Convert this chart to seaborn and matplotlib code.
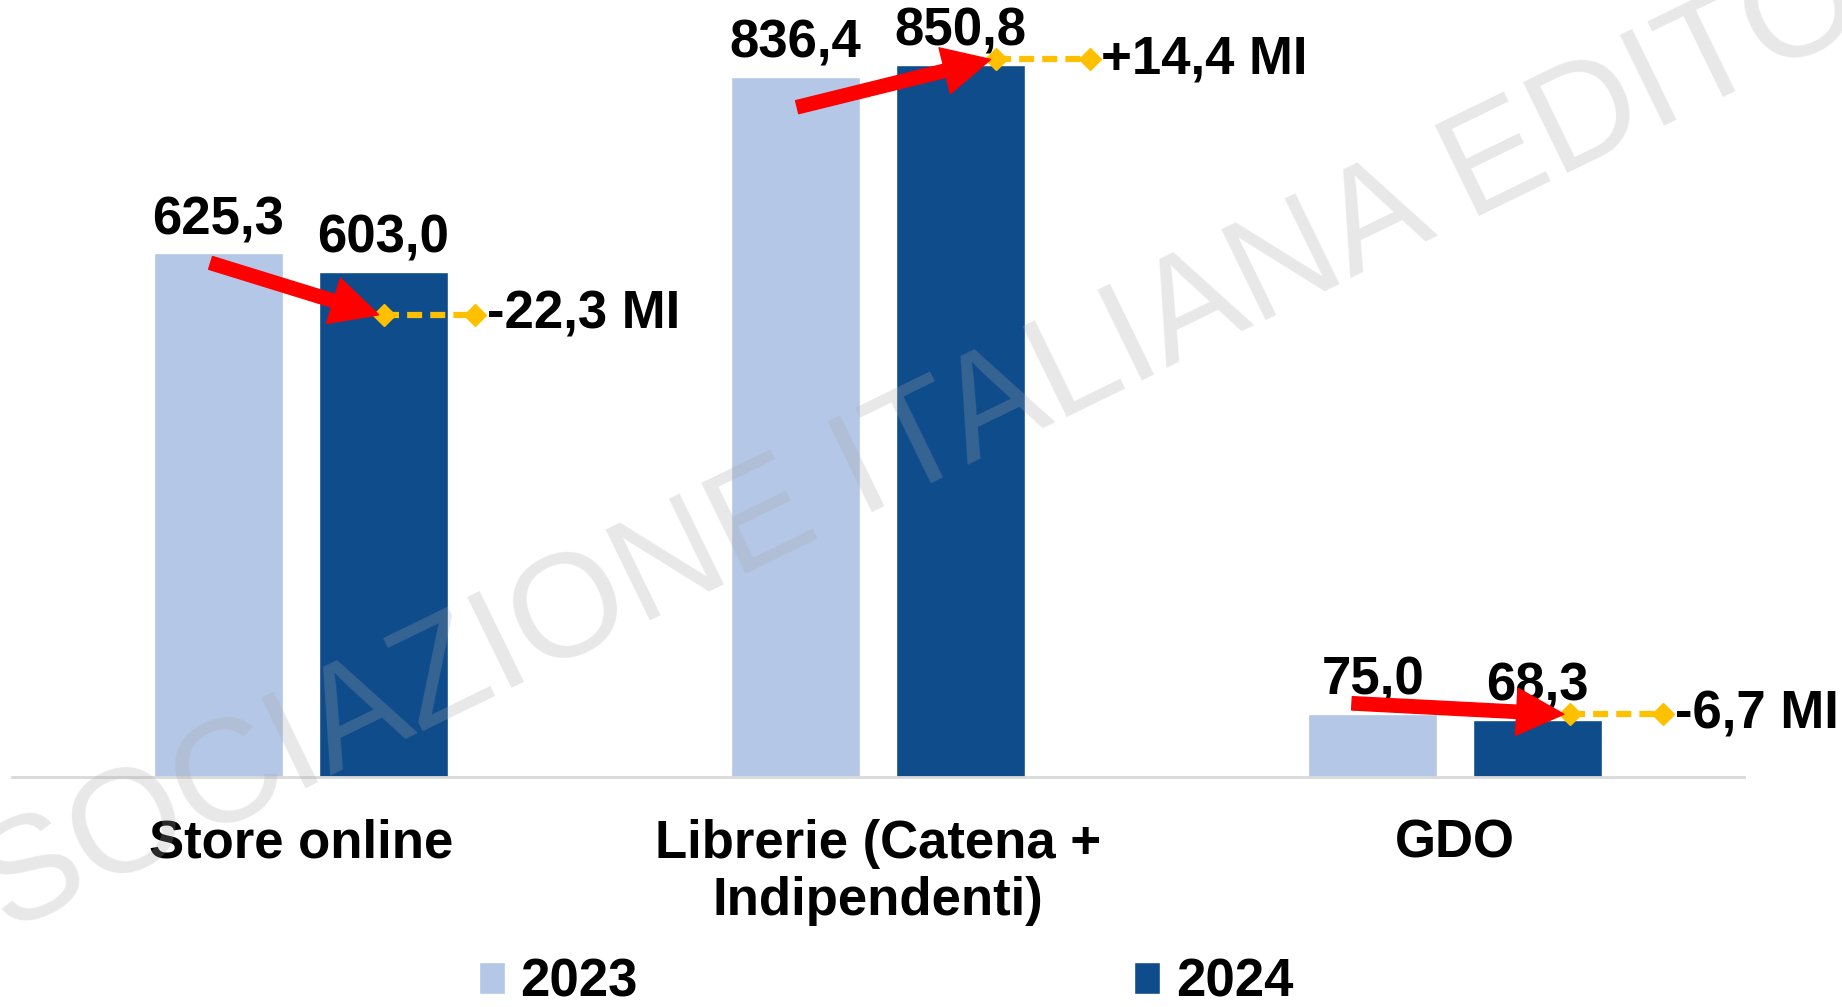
import pandas as pd
import matplotlib.pyplot as plt
import seaborn as sns

categories = ['Store online', 'Librerie (Catena +\nIndipendenti)', 'GDO']
years = ['2023', '2024']
vals_2023 = [625.3, 836.4, 75.0]
vals_2024 = [603.0, 850.8, 68.3]

# arrow layout per category: (tail x offset, tail y, tip x offset, tip y, end x offset)
arrow_layout = [(-0.156, 614, 0.145, 552, 0.302),
                (-0.140, 800, 0.205, 857, 0.367),
                (-0.179, 88, 0.198, 75, 0.360)]

pal = {'2023': '#B4C7E7', '2024': '#0F4C8C'}
fnt = 'Liberation Sans'

df = pd.DataFrame({
    'canale': categories * 2,
    'anno': [years[0]] * 3 + [years[1]] * 3,
    'valore': vals_2023 + vals_2024,
})

sns.set_style('white')
plt.rcParams['font.family'] = [fnt, 'DejaVu Sans']
plt.rcParams['text.color'] = 'black'
plt.rcParams['xtick.color'] = 'black'

fig = plt.figure(figsize=(18.42, 10.07), dpi=100)
ax = fig.add_axes([12 / 1842, 1 - 777 / 1007, 1732 / 1842, 777 / 1007])

sns.barplot(data=df, x='canale', y='valore', hue='anno', hue_order=years,
            palette=pal, width=0.571, gap=0.218, saturation=1, ax=ax)

ax.set_xlim(-0.5, 2.5)
ax.set_ylim(0, 928)
ax.set_xlabel('')
ax.set_ylabel('')
ax.set_yticks([])
for s in ['top', 'left', 'right']:
    ax.spines[s].set_visible(False)
ax.spines['bottom'].set_color('#D9D9D9')
ax.spines['bottom'].set_linewidth(2)
ax.tick_params(axis='x', length=0, pad=30, colors='black')
for lbl in ax.get_xticklabels():
    lbl.set_fontsize(38)
    lbl.set_fontweight('bold')

for cont in ax.containers:
    ax.bar_label(cont, labels=[f'{v:.1f}'.replace('.', ',') for v in cont.datavalues],
                 padding=6, fontsize=38, fontweight='bold', color='black')

# variation arrows
for i, (a, b) in enumerate(zip(vals_2023, vals_2024)):
    tx, ty, hx, hy, ex = arrow_layout[i]
    ax.plot([i + hx, i + ex], [hy, hy], color='#FFC000', lw=4.5, ls=(0, (2.4, 1.3)),
            marker='D', markersize=11, zorder=4, clip_on=False)
    ax.annotate('', xy=(i + hx - 0.01, hy), xytext=(i + tx, ty),
                arrowprops=dict(arrowstyle='simple,head_length=0.85,head_width=0.85,tail_width=0.24',
                                color='#FF0000', shrinkA=0, shrinkB=0, mutation_scale=40),
                zorder=5, annotation_clip=False)
    d = b - a
    txt = f'{d:+.1f}'.replace('.', ',') + ' MI'
    ax.text(i + ex + 0.02, hy, txt, fontsize=38, fontweight='bold', color='black',
            ha='left', va='center', clip_on=False)

handles, labels = ax.get_legend_handles_labels()
ax.legend(handles, labels, loc='center', bbox_to_anchor=(0.481, 0.024),
          bbox_transform=fig.transFigure, ncol=2, frameon=False,
          prop={'size': 38, 'weight': 'bold'}, handlelength=0.49, handleheight=0.57,
          handletextpad=0.3, columnspacing=9.4, borderpad=0.1)

fig.text(0.4884, 0.5469, 'ASSOCIAZIONE ITALIANA EDITORI', fontsize=106, color='#A7A7A7',
         alpha=0.26, rotation=26, rotation_mode='anchor', ha='center', va='center')

fig.savefig('out.png', dpi=100)
